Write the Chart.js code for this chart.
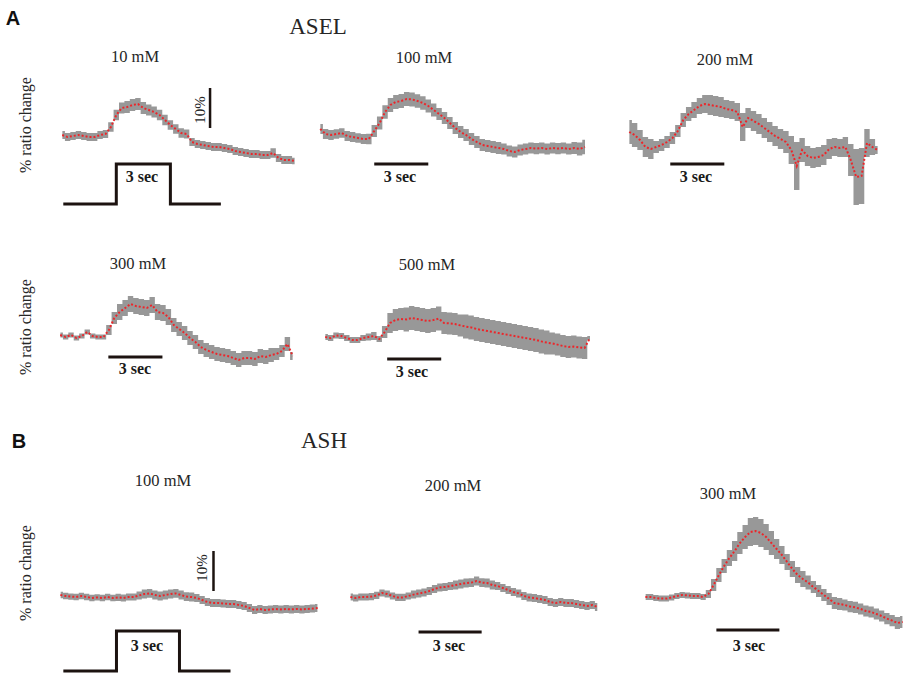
<!DOCTYPE html>
<html>
<head>
<meta charset="utf-8">
<script src="https://cdn.jsdelivr.net/npm/chart.js@4.4.0/dist/chart.umd.min.js"></script>
<style>
  body { margin: 0; background: #fff; width: 907px; height: 676px; position: relative; overflow: hidden;
         font-family: "Liberation Serif", serif; color: #262626; }
  canvas { position: absolute; }
  .t { position: absolute; transform: translate(-50%, -50%); white-space: nowrap; }
  .lbl { font-size: 16.5px; }
  .sec { font-size: 16px; font-weight: bold; color: #1a1a1a; }
  .cell { font-size: 23px; }
  .pan { font-family: "Liberation Sans", sans-serif; font-weight: bold; font-size: 20px; color: #111; }
  .rot { transform: translate(-50%, -50%) rotate(-90deg); }
  .ylab { font-size: 16px; }
</style>
</head>
<body>

<div class="t pan" style="left:13px;top:18px">A</div>
<div class="t cell" style="left:318px;top:27px">ASEL</div>
<div class="t pan" style="left:19px;top:441px">B</div>
<div class="t cell" style="left:324px;top:441px">ASH</div>

<div class="t lbl" style="left:135px;top:57px">10 mM</div>
<div class="t lbl" style="left:424px;top:58px">100 mM</div>
<div class="t lbl" style="left:725px;top:60px">200 mM</div>
<div class="t lbl" style="left:138px;top:264px">300 mM</div>
<div class="t lbl" style="left:427px;top:265px">500 mM</div>
<div class="t lbl" style="left:163px;top:481px">100 mM</div>
<div class="t lbl" style="left:453px;top:486px">200 mM</div>
<div class="t lbl" style="left:728px;top:494px">300 mM</div>

<div class="t sec" style="left:142px;top:177px">3 sec</div>
<div class="t sec" style="left:400px;top:177px">3 sec</div>
<div class="t sec" style="left:696px;top:177px">3 sec</div>
<div class="t sec" style="left:135px;top:369px">3 sec</div>
<div class="t sec" style="left:412px;top:372px">3 sec</div>
<div class="t sec" style="left:147px;top:646px">3 sec</div>
<div class="t sec" style="left:449px;top:646px">3 sec</div>
<div class="t sec" style="left:749px;top:646px">3 sec</div>

<div class="t lbl rot" style="left:200px;top:110px;font-size:15px">10%</div>
<div class="t lbl rot" style="left:202px;top:568px;font-size:15px">10%</div>

<div class="t ylab rot" style="left:26px;top:125px">% ratio change</div>
<div class="t ylab rot" style="left:26px;top:327px">% ratio change</div>
<div class="t ylab rot" style="left:26px;top:573px">% ratio change</div>

<script>
// one sample every dt seconds, values are % ratio change (mean and SEM)
var dtASEL = 0.3;
var dtASH = 0.25;

// ASEL
var asel10 = [0.5, 0, 0.25, 0.5, 0.25, 0, 0, 0.5, 0.75, 2.5, 5.5, 7.25, 7.5, 8, 8.25, 7.25, 6.75, 6.25, 5.5, 4.25,
  3, 2, 1, 0.75, -1.25, -1.75, -2, -2.25, -2.5, -2.5, -2.75, -3, -3.5, -3.75, -4, -4.25, -4.25, -4.5, -4.5, -4,
  -5.25, -5.75, -5.75, -6];
var asel10Err = [1, 1, 1, 1, 1, 1, 1, 1, 1, 1.2, 1.3, 1.4, 1.5, 1.5, 1.5, 1.5, 1.4, 1.4, 1.3, 1.3,
  1.2, 1.2, 1.2, 1.1, 1, 1, 1, 1, 1, 1, 1, 1, 1, 1, 1, 1, 1, 1, 1, 1.2,
  1, 1, 1, 0.8];

var asel100 = [2, 0.75, 0.5, 0.75, 1, 0.25, 0, -0.25, -0.5, -0.5, 1.5, 3.5, 6.25, 8, 8.75, 9, 9.5, 9.4, 9, 8.5,
  7.75, 6.75, 5.75, 4.75, 3.5, 2.25, 1.25, 0.5, -0.5, -1.25, -2, -2.25, -2.5, -2.75, -3, -3.5, -3.75, -3.25, -3, -2.75,
  -2.9, -2.75, -3, -2.75, -2.9, -2.75, -3, -2.75, -3, -2.5];
var asel100Err = [1.25, 1.25, 1.25, 1.2, 1.2, 1.25, 1.25, 1.2, 1.25, 1.3, 1.5, 1.6, 1.7, 1.75, 1.75, 1.75, 1.75, 1.75, 1.7, 1.7,
  1.6, 1.6, 1.5, 1.5, 1.5, 1.5, 1.5, 1.5, 1.5, 1.5, 1.5, 1.5, 1.5, 1.5, 1.4, 1.4, 1.4, 1.4, 1.4, 1.4,
  1.4, 1.4, 1.4, 1.4, 1.4, 1.4, 1.4, 1.5, 1.6, 1.8];

var asel200 = [1.25, 0.5, -0.75, -2.5, -3, -2.5, -2, -1.25, -0.25, 1.5, 4.25, 5.75, 6.75, 7.75, 8.25, 8, 7.75, 7.5, 7, 6.75,
  6.25, 2.5, 4.75, 4, 3.25, 2.25, 1.25, 0.25, -0.5, -1.25, -3.25, -7.25, -3.25, -4.75, -5.25, -5, -4.5, -3, -2.5, -2.75,
  -2.5, -5.75, -10, -9.75, -1.5, -2.5, -3.25];
var asel200Err = [3, 3, 2.5, 2.5, 2.5, 1.5, 1.5, 1.5, 1.5, 1.5, 1.75, 1.75, 2, 2, 2.25, 2.5, 2.5, 2.5, 2.25, 2.25,
  2.25, 3.5, 2.5, 2.5, 2.5, 2.5, 2.5, 2.5, 2.5, 2.75, 3.5, 6, 3, 2.5, 2.5, 2.5, 2.5, 2.5, 2.25, 2.25,
  2.5, 4, 7, 7, 3.5, 2, 1];

var asel300 = [0.5, 0, 0.5, -0.25, 0.25, 1.25, 0.25, 0, 0, 1.75, 4.75, 6.25, 7.25, 8.25, 7.75, 7.5, 7.25, 8, 6.25, 6,
  5, 3, 2, 1, -0.25, -1.25, -2.5, -3.25, -3.75, -4.25, -4.5, -4.75, -5.25, -5.75, -5.25, -5.25, -5.5, -4.75, -5, -4.5,
  -4.25, -3.5, -1.75, -4.75];
var asel300Err = [0.6, 0.6, 0.6, 0.6, 0.6, 0.6, 0.6, 0.6, 0.6, 1.25, 1.5, 2, 2, 2, 2, 2, 2, 2, 2, 2,
  2, 1.75, 1.75, 1.75, 1.75, 1.75, 1.75, 1.75, 1.75, 1.75, 1.75, 1.75, 1.75, 1.75, 1.75, 1.75, 1.75, 1.75, 1.75, 1.75,
  1.5, 1.5, 1.75, 1];

var asel500 = [0, -0.25, 0.4, 0.25, -0.25, -0.75, -0.75, -0.25, 0, 0.25, -0.5, 1.25, 3.5, 4.25, 4.5, 4.4, 4.75, 4.5, 4.25, 4,
  4.25, 4.6, 3.5, 3.4, 3.25, 2.9, 2.6, 2.4, 2, 1.75, 1.5, 1.25, 1, 0.75, 0.5, 0.25, 0, -0.25, -0.5, -0.75,
  -1.1, -1.4, -1.6, -1.9, -2.25, -2.5, -2.4, -2.6, -2.75, -0.25];
var asel500Err = [0.75, 0.75, 0.75, 0.75, 0.75, 0.75, 0.75, 0.75, 0.9, 1, 0.75, 1.5, 2.5, 2.75, 2.75, 3, 3, 3, 3, 3,
  3, 3, 2.75, 2.75, 2.75, 2.75, 3, 3, 3, 3, 3, 3, 3, 3, 3, 3, 3, 3, 3, 3,
  3, 3, 2.75, 2.75, 2.75, 2.75, 2.75, 2.75, 2.75, 0.5];

// ASH
var ash100 = [0.5, 0.25, 0.1, 0, 0.25, 0, -0.25, -0.1, -0.25, 0, -0.25, -0.1, -0.25, 0, 0, 0.4, 0.75, 0.9, 0.5, 0.25,
  0.5, 0.75, 0.9, 0.5, 0.1, 0, -0.25, -0.75, -1.25, -1.5, -1.5, -1.6, -1.75, -1.75, -2, -2.25, -2.75, -3.25, -3, -3.25,
  -3.1, -3, -3.1, -3, -3.1, -3, -3.1, -3, -2.9, -2.75];
var ash100Err = [0.8, 0.8, 0.8, 0.8, 0.8, 0.8, 0.8, 0.8, 0.8, 0.8, 0.8, 0.9, 0.9, 0.9, 0.9, 1, 1.1, 1.1, 1.1, 1.1,
  1.1, 1.1, 1.1, 1.1, 1.1, 1.1, 1, 1, 1, 1, 1, 1, 1, 1, 1, 1, 1, 1, 1, 1,
  1, 1, 1, 1, 1, 1, 1, 1, 1, 1];

var ash200 = [0, -0.25, 0, 0, 0.1, 0.4, 1, 0.75, 0.25, -0.1, -0.1, 0.25, 0.6, 0.9, 1.1, 1.5, 2, 2.4, 2.5, 2.75,
  3, 3.25, 3.5, 3.6, 4, 3.6, 3.5, 3, 2.75, 2.25, 1.75, 1.25, 0.9, 0.25, -0.1, -0.25, -0.5, -0.75, -1.25, -1.5,
  -1.25, -1.5, -1.5, -1.75, -2, -2.25, -2, -2.5];
var ash200Err = [0.9, 0.9, 0.9, 0.9, 0.9, 0.9, 0.9, 0.9, 0.9, 0.9, 0.9, 0.9, 1, 1, 1, 1, 1, 1, 1, 1,
  1.1, 1.1, 1.1, 1.1, 1.1, 1.1, 1.1, 1.1, 1, 1, 1, 1, 1, 1, 1, 1, 1, 1, 1, 1,
  1, 1, 1, 1, 1, 1, 1, 1];

var ash300 = [0, 0, -0.25, -0.4, -0.4, -0.1, 0.25, 0.5, 0.4, 0.25, 0.25, 0, 0.75, 3, 5.5, 7.75, 9.75, 11.5, 13.5, 15,
  16.25, 16.5, 16, 15, 13.5, 12, 10.5, 8.75, 7, 5.5, 4.5, 3.6, 2.5, 1.5, 0.5, -0.5, -1.5, -1.75, -2, -2.4,
  -2.6, -3, -3.5, -3.75, -4.25, -4.75, -5.4, -5.9, -6.5, -6.25];
var ash300Err = [0.75, 0.75, 0.75, 0.75, 0.75, 0.75, 0.75, 0.75, 0.75, 0.75, 0.75, 0.75, 1, 1.5, 1.75, 1.75, 2, 2.5, 2.75, 3,
  3.5, 3.5, 3.5, 3.25, 3, 2.5, 2.25, 2, 2, 2, 2, 1.75, 1.5, 1.5, 1.5, 1.5, 1.5, 1.5, 1.4, 1.4,
  1.4, 1.4, 1.4, 1.4, 1.4, 1.4, 1.4, 1.4, 1.5, 1.5];

// stimulus steps and scale bars, in seconds / %
var stepA = { t: [0.06, 3, 3, 6, 6, 8.8], v: [-16.75, -16.75, -6.75, -6.75, -16.75, -16.75] };
var stepB = { t: [0.14, 2.67, 2.67, 5.67, 5.67, 8.1], v: [-18.5, -18.5, -8.5, -8.5, -18.5, -18.5] };

var PX_PCT = 4; // 4 px per 1 %

var panels = [
  { mean: asel10, err: asel10Err, dt: dtASEL, left: 62, base: 137, pxs: 18, t0: -0.4, t1: 13.3, y0: -18.5, y1: 14,
    step: stepA, vbar: { t: 8.2, v: [2.25, 12.25] } },
  { mean: asel100, err: asel100Err, dt: dtASEL, left: 320, base: 137, pxs: 18, t0: -0.4, t1: 15.2, y0: -8, y1: 13,
    hbar: { t: [3, 6], v: -6.75 } },
  { mean: asel200, err: asel200Err, dt: dtASEL, left: 629, base: 137, pxs: 18, t0: -0.4, t1: 14.2, y0: -19, y1: 13,
    hbar: { t: [2.28, 5.28], v: -6.75 } },
  { mean: asel300, err: asel300Err, dt: dtASEL, left: 60, base: 337, pxs: 18, t0: -0.4, t1: 13.3, y0: -9, y1: 12,
    hbar: { t: [2.67, 5.67], v: -5 } },
  { mean: asel500, err: asel500Err, dt: dtASEL, left: 325, base: 337, pxs: 18, t0: -0.4, t1: 15.2, y0: -7, y1: 9,
    hbar: { t: [3.44, 6.44], v: -5.5 } },
  { mean: ash100, err: ash100Err, dt: dtASH, left: 60, base: 597, pxs: 21, t0: -0.4, t1: 12.6, y0: -20, y1: 13,
    step: stepB, vbar: { t: 7.29, v: [1.5, 11.5] } },
  { mean: ash200, err: ash200Err, dt: dtASH, left: 350, base: 597, pxs: 21, t0: -0.4, t1: 12.2, y0: -10, y1: 7,
    hbar: { t: [3.24, 6.24], v: -8.75 } },
  { mean: ash300, err: ash300Err, dt: dtASH, left: 645, base: 597, pxs: 21, t0: -0.4, t1: 12.6, y0: -10, y1: 22,
    hbar: { t: [3.38, 6.38], v: -8.25 } }
];

var grey = 'rgb(152,152,152)';
var red = 'rgb(236,38,42)';
var ink = '#1c1310';

panels.forEach(function (p) {
  var cv = document.createElement('canvas');
  cv.width = Math.round((p.t1 - p.t0) * p.pxs);
  cv.height = Math.round((p.y1 - p.y0) * PX_PCT);
  cv.style.left = Math.round(p.left + p.t0 * p.pxs) + 'px';
  cv.style.top = Math.round(p.base - p.y1 * PX_PCT) + 'px';
  document.body.appendChild(cv);

  var upper = p.mean.map(function (v, i) { return { x: i * p.dt, y: v + p.err[i] }; });
  var lower = p.mean.map(function (v, i) { return { x: i * p.dt, y: v - p.err[i] }; });
  var mid = p.mean.map(function (v, i) { return { x: i * p.dt, y: v }; });

  var datasets = [
    { data: upper, borderColor: 'rgba(0,0,0,0)', borderWidth: 1, pointRadius: 0, stepped: 'middle', fill: false, order: 3 },
    { data: lower, borderColor: 'rgba(0,0,0,0)', borderWidth: 1, pointRadius: 0, stepped: 'middle', fill: '-1',
      backgroundColor: grey, order: 3 },
    { data: mid, borderColor: red, borderWidth: 2, borderDash: [2, 2], pointRadius: 0, fill: false, order: 1 }
  ];

  if (p.step) {
    datasets.push({
      data: p.step.t.map(function (t, i) { return { x: t, y: p.step.v[i] }; }),
      borderColor: ink, borderWidth: 3, pointRadius: 0, fill: false, order: 0
    });
  }
  if (p.vbar) {
    datasets.push({
      data: [{ x: p.vbar.t, y: p.vbar.v[0] }, { x: p.vbar.t, y: p.vbar.v[1] }],
      borderColor: ink, borderWidth: 2.5, pointRadius: 0, fill: false, order: 0
    });
  }
  if (p.hbar) {
    datasets.push({
      data: [{ x: p.hbar.t[0], y: p.hbar.v }, { x: p.hbar.t[1], y: p.hbar.v }],
      borderColor: ink, borderWidth: 3, pointRadius: 0, fill: false, order: 0
    });
  }

  new Chart(cv.getContext('2d'), {
    type: 'line',
    data: { datasets: datasets },
    options: {
      responsive: false,
      animation: false,
      events: [],
      layout: { padding: 0 },
      plugins: { legend: { display: false }, tooltip: { enabled: false } },
      scales: {
        x: { type: 'linear', display: false, min: p.t0, max: p.t1 },
        y: { display: false, min: p.y0, max: p.y1 }
      }
    }
  });
});
</script>
</body>
</html>
